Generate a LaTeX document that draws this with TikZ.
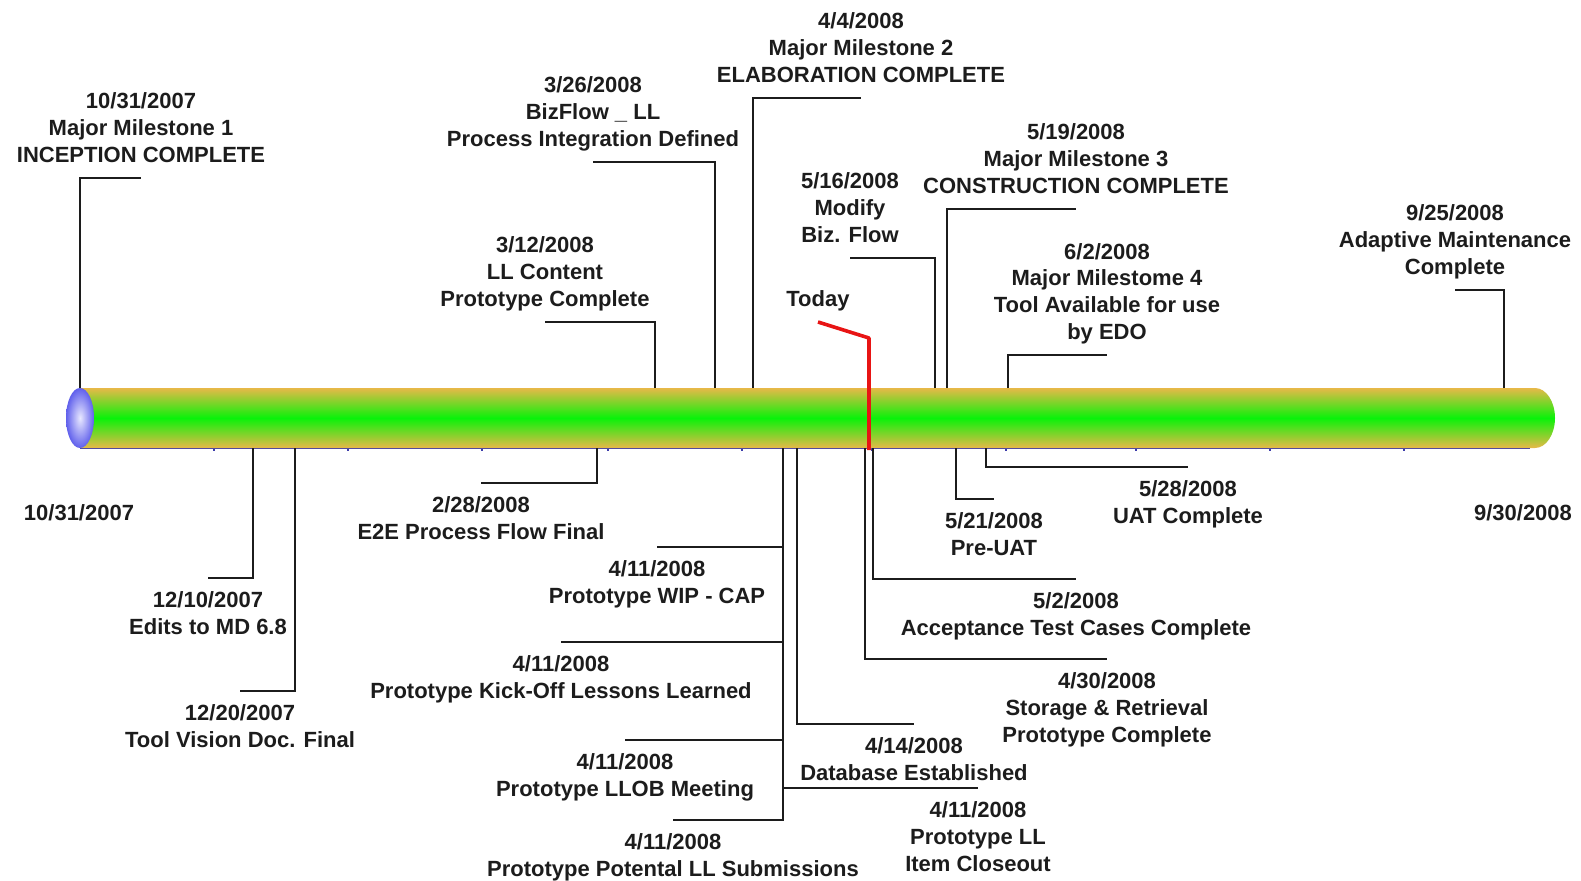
\documentclass[tikz,border=0pt]{standalone}
\usepackage{fontspec}
\setmainfont{Liberation Sans}
\definecolor{barGold}{RGB}{232,184,72}
\definecolor{barGreen}{RGB}{10,242,10}
\definecolor{capBlue}{RGB}{96,96,236}
\definecolor{capLight}{RGB}{232,232,255}
\definecolor{inkGray}{RGB}{28,28,28}
\definecolor{todayRed}{RGB}{232,20,20}
\definecolor{axisBlue}{RGB}{60,60,170}
\newcommand{\lblfont}{\fontsize{11}{13.3}\selectfont\bfseries}

\begin{document}
\begin{tikzpicture}[
  x=0.5pt, y=-0.5pt,
  lbl/.style={font=\lblfont, text=inkGray, align=center, inner xsep=0pt,
              outer sep=0pt, execute at begin node=\strut,
              execute at end node=\strut},
  lblup/.style={lbl, inner ysep=4pt, anchor=south},
  lbldown/.style={lbl, inner ysep=7pt, anchor=north},
  stem/.style={draw=inkGray, line width=1pt},
  todayline/.style={draw=todayRed, line width=1.8pt, line join=round},
  axisline/.style={draw=axisBlue, line width=0.6pt},
  bar/.style={top color=barGold, bottom color=barGold, middle color=barGreen},
]
\useasboundingbox (0,0) rectangle (1581,880);

% ---- Time bar ----
\draw[axisline] (80,448) -- (1530,448);
\foreach \tx in {214,348,482,608,742,872,1006,1136,1270,1404}
  \draw[axisline, line width=0.8pt] (\tx,448) -- ++(0,3);
\shade[bar] (80,388) -- (1535,388)
  arc[start angle=-90, end angle=90, x radius=20, y radius=30]
  -- (80,448) -- cycle;
\shade[inner color=capLight, outer color=capBlue]
  (80,418) ellipse[x radius=14, y radius=30];

\node[lbl, anchor=base] (start) at (79,520) {10/31/2007};
\node[lbl, anchor=base] (finish) at (1523,520) {9/30/2008};

% ---- Milestones above the bar ----
\coordinate (mm1-pin) at (80,388);
\coordinate (llc-pin) at (655,388);
\coordinate (bizll-pin) at (715,388);
\coordinate (mm2-pin) at (753,388);
\coordinate (modflow-pin) at (935,388);
\coordinate (mm3-pin) at (947,388);
\coordinate (mm4-pin) at (1008,388);
\coordinate (adapt-pin) at (1504,388);

\node[lblup] (mm1) at (141,178)
  {10/31/2007\\Major Milestone 1\\INCEPTION COMPLETE};
\node[lblup] (llc) at (545,322)
  {3/12/2008\\LL Content\\Prototype Complete};
\node[lblup] (bizll) at (593,162)
  {3/26/2008\\BizFlow \_ LL\\Process Integration Defined};
\node[lblup] (mm2) at (861,98)
  {4/4/2008\\Major Milestone 2\\ELABORATION COMPLETE};
\node[lblup] (modflow) at (850,258)
  {5/16/2008\\Modify\\Biz. Flow};
\node[lblup] (mm3) at (1076,209)
  {5/19/2008\\Major Milestone 3\\CONSTRUCTION COMPLETE};
\node[lblup] (mm4) at (1107,355)
  {6/2/2008\\Major Milestome 4\\Tool Available for use\\by EDO};
\node[lblup] (adapt) at (1455,290)
  {9/25/2008\\Adaptive Maintenance\\Complete};

\draw[stem] (mm1-pin) |- (mm1.south);
\draw[stem] (llc-pin) |- (llc.south);
\draw[stem] (bizll-pin) |- (bizll.south);
\draw[stem] (mm2-pin) |- (mm2.south);
\draw[stem] (modflow-pin) |- (modflow.south);
\draw[stem] (mm3-pin) |- (mm3.south);
\draw[stem] (mm4-pin) |- (mm4.south);
\draw[stem] (adapt-pin) |- (adapt.south);

% ---- Milestones below the bar ----
\coordinate (edits-pin) at (253,448);
\coordinate (vision-pin) at (295,448);
\coordinate (e2e-pin) at (597,448);
\coordinate (apr11-pin) at (783,448);
\coordinate (db-pin) at (797,448);
\coordinate (storage-pin) at (865,448);
\coordinate (atc-pin) at (873,448);
\coordinate (preuat-pin) at (956,448);
\coordinate (uat-pin) at (986,448);

\node[lbldown] (edits) at (208,578) {12/10/2007\\Edits to MD 6.8};
\node[lbldown] (vision) at (240,691) {12/20/2007\\Tool Vision Doc. Final};
\node[lbldown] (e2e) at (481,483) {2/28/2008\\E2E Process Flow Final};
\node[lbldown] (wip) at (657,547) {4/11/2008\\Prototype WIP - CAP};
\node[lbldown] (kickoff) at (561,642)
  {4/11/2008\\Prototype Kick-Off Lessons Learned};
\node[lbldown] (llob) at (625,740) {4/11/2008\\Prototype LLOB Meeting};
\node[lbldown] (potental) at (673,820)
  {4/11/2008\\Prototype Potental LL Submissions};
\node[lbldown] (closeout) at (978,788)
  {4/11/2008\\Prototype LL\\Item Closeout};
\node[lbldown] (db) at (914,724) {4/14/2008\\Database Established};
\node[lbldown] (storage) at (1107,659)
  {4/30/2008\\Storage \& Retrieval\\Prototype Complete};
\node[lbldown] (atc) at (1076,579)
  {5/2/2008\\Acceptance Test Cases Complete};
\node[lbldown] (preuat) at (994,499) {5/21/2008\\Pre-UAT};
\node[lbldown] (uat) at (1188,467) {5/28/2008\\UAT Complete};

\draw[stem] (edits-pin) |- (edits.north);
\draw[stem] (vision-pin) |- (vision.north);
\draw[stem] (e2e-pin) |- (e2e.north);
\draw[stem] (apr11-pin) |- (wip.north);
\draw[stem] (apr11-pin) |- (kickoff.north);
\draw[stem] (apr11-pin) |- (llob.north);
\draw[stem] (apr11-pin) |- (potental.north);
\draw[stem] (apr11-pin) |- (closeout.north);
\draw[stem] (db-pin) |- (db.north);
\draw[stem] (storage-pin) |- (storage.north);
\draw[stem] (atc-pin) |- (atc.north);
\draw[stem] (preuat-pin) |- (preuat.north);
\draw[stem] (uat-pin) |- (uat.north);

% ---- Today marker ----
\node[lblup] (today) at (818,322) {Today};
\coordinate (today-bend) at (869,338);
\coordinate (today-foot) at (869,450);
\draw[todayline] (today.south) -- (today-bend) -- (today-foot);

\end{tikzpicture}
\end{document}
